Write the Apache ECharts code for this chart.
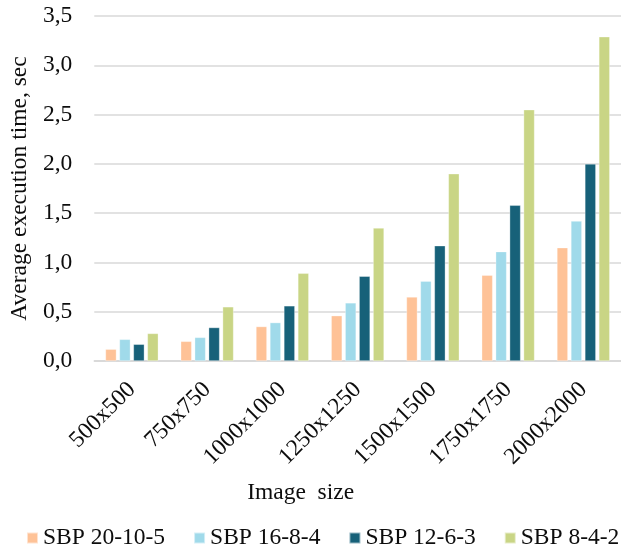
<!DOCTYPE html>
<html>
<head>
<meta charset="utf-8">
<script src="https://cdn.jsdelivr.net/npm/echarts@6/dist/echarts.min.js"></script>
<style>
  html, body { margin: 0; padding: 0; background: #fff; }
  #chart { width: 621px; height: 549px; }
</style>
</head>
<body>
<div id="chart"></div>
<script>
// Image sizes on the category axis
const categories = ['500x500', '750x750', '1000x1000', '1250x1250', '1500x1500', '1750x1750', '2000x2000'];

// Average execution time (sec) per SBP configuration
const sbp20_10_5 = [0.12, 0.20, 0.35, 0.46, 0.65, 0.87, 1.15];
const sbp16_8_4  = [0.22, 0.24, 0.39, 0.59, 0.81, 1.11, 1.42];
const sbp12_6_3  = [0.17, 0.34, 0.56, 0.86, 1.17, 1.58, 2.00];
const sbp8_4_2   = [0.28, 0.55, 0.89, 1.35, 1.90, 2.55, 3.29];

const seriesNames = ['SBP 20-10-5', 'SBP 16-8-4', 'SBP 12-6-3', 'SBP 8-4-2'];
const seriesData = [sbp20_10_5, sbp16_8_4, sbp12_6_3, sbp8_4_2];
const colors = ['#FEC297', '#A0DAEA', '#176179', '#C9D585'];

const FONT = 'Liberation Serif';
const TEXT = '#0d0d0d';

const chart = echarts.init(document.getElementById('chart'), null, { renderer: 'canvas' });

chart.setOption({
  animation: false,
  color: colors,
  textStyle: { fontFamily: FONT },
  grid: { left: 90, top: 16, bottom: 188, right: -7.5, containLabel: false },
  legend: {
    data: seriesNames,
    orient: 'horizontal',
    left: 21,
    top: 521,
    width: 900,
    itemWidth: 11,
    itemHeight: 11,
    itemGap: 28,
    icon: 'rect',
    textStyle: { fontFamily: FONT, fontSize: 23.5, color: TEXT }
  },
  xAxis: {
    type: 'category',
    data: categories,
    name: 'Image  size',
    nameLocation: 'middle',
    nameGap: 120,
    nameTextStyle: { fontFamily: FONT, fontSize: 23.5, color: TEXT, padding: [0, 114, 0, 0] },
    axisLine: { lineStyle: { color: '#d6d6d6', width: 1.5 } },
    axisTick: { show: false },
    axisLabel: { rotate: 45, margin: 25, fontFamily: FONT, fontSize: 23.5, color: TEXT, interval: 0 }
  },
  yAxis: {
    type: 'value',
    min: 0,
    max: 3.5,
    interval: 0.5,
    name: 'Average execution time, sec',
    nameLocation: 'middle',
    nameRotate: 90,
    nameGap: 61,
    nameTextStyle: { fontFamily: FONT, fontSize: 23.5, color: TEXT },
    axisLine: { show: false },
    axisTick: { show: false },
    splitLine: { lineStyle: { color: '#d9d9d9', width: 1.5 } },
    axisLabel: {
      margin: 22,
      fontFamily: FONT,
      fontSize: 23.5,
      color: TEXT,
      formatter: v => v.toFixed(1).replace('.', ',')
    }
  },
  series: seriesNames.map((name, i) => ({
    name,
    type: 'bar',
    data: seriesData[i],
    barWidth: 11,
    barGap: '27%',
    itemStyle: { color: colors[i], borderColor: 'rgba(255,255,255,0.55)', borderWidth: 0.6 }
  }))
});
</script>
</body>
</html>
